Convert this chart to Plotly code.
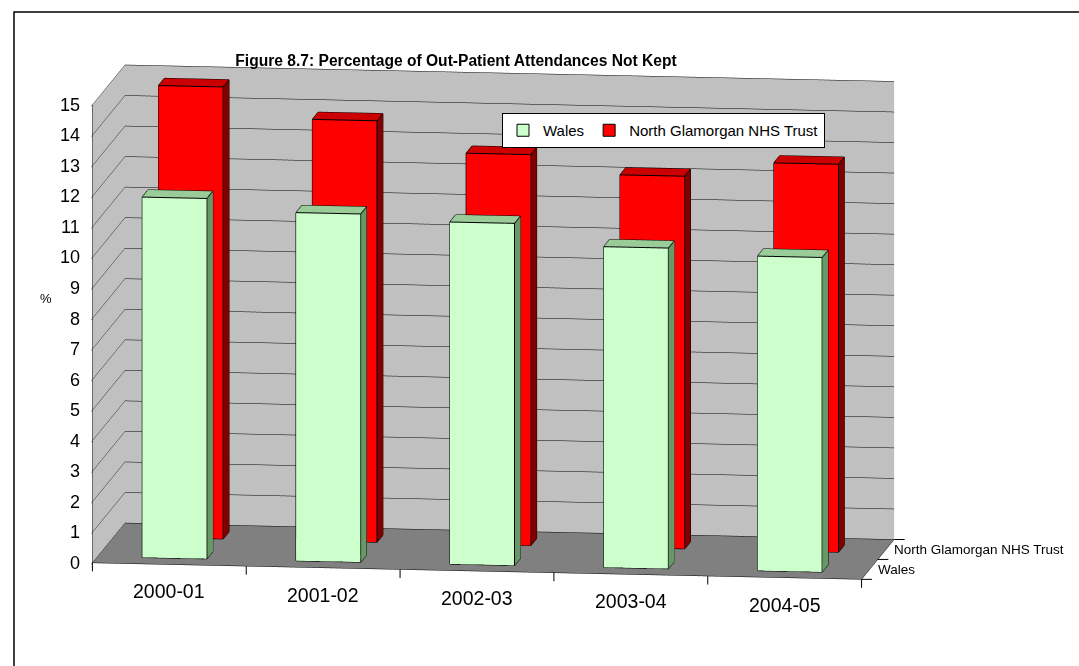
import math
import plotly.graph_objects as go

categories = ["2000-01", "2001-02", "2002-03", "2003-04", "2004-05"]
series_names = ["Wales", "North Glamorgan NHS Trust"]
wales = [11.8, 11.4, 11.2, 10.5, 10.3]
ngnhs = [14.8, 13.8, 12.8, 12.2, 12.7]
z_ticks = list(range(0, 16))

BAR_W = 0.42
BAR_D = 0.36

styles = [
    dict(front="#CCFFCC", side="#669966", top="#99CC99"),
    dict(front="#FF0000", side="#800000", top="#CC0000"),
]

X_RANGE = [-0.5, len(categories) - 0.5]
Y_RANGE = [-0.5, len(series_names) - 0.5]
Z_RANGE = [0, 15]


def box_mesh(values, row, st):
    xs, ys, zs, I, J, K, fc = [], [], [], [], [], [], []
    ex, ey, ez = [], [], []
    for i, v in enumerate(values):
        x0, x1 = i - BAR_W / 2, i + BAR_W / 2
        y0, y1 = row - BAR_D / 2, row + BAR_D / 2
        z0, z1 = 0, v
        b = len(xs)
        verts = [(x0, y0, z0), (x1, y0, z0), (x1, y1, z0), (x0, y1, z0),
                 (x0, y0, z1), (x1, y0, z1), (x1, y1, z1), (x0, y1, z1)]
        for p in verts:
            xs.append(p[0]); ys.append(p[1]); zs.append(p[2])
        faces = [
            ((0, 1, 5), st["front"]), ((0, 5, 4), st["front"]),
            ((1, 2, 6), st["side"]), ((1, 6, 5), st["side"]),
            ((4, 5, 6), st["top"]), ((4, 6, 7), st["top"]),
            ((3, 2, 6), st["front"]), ((3, 6, 7), st["front"]),
            ((0, 3, 7), st["side"]), ((0, 7, 4), st["side"]),
            ((0, 1, 2), st["front"]), ((0, 2, 3), st["front"]),
        ]
        for (a, c, d), col in faces:
            I.append(b + a); J.append(b + c); K.append(b + d); fc.append(col)
        edges = [(0, 1), (1, 5), (5, 4), (4, 0), (1, 2), (2, 6), (6, 5), (6, 7), (7, 4)]
        for a, c in edges:
            pa, pc = verts[a], verts[c]
            ex += [pa[0], pc[0], None]; ey += [pa[1], pc[1], None]; ez += [pa[2], pc[2], None]
    mesh = go.Mesh3d(x=xs, y=ys, z=zs, i=I, j=J, k=K, facecolor=fc, flatshading=True,
                     lighting=dict(ambient=1, diffuse=0, specular=0, roughness=1, fresnel=0),
                     showlegend=False, hoverinfo="skip")
    lines = go.Scatter3d(x=ex, y=ey, z=ez, mode="lines", line=dict(color="black", width=2),
                         showlegend=False, hoverinfo="skip")
    return mesh, lines


fig = go.Figure()
for row, (vals, st) in enumerate([(wales, styles[0]), (ngnhs, styles[1])]):
    m, l = box_mesh(vals, row, st)
    fig.add_trace(m)
    fig.add_trace(l)

# legend entries
for name, st in zip(series_names, styles):
    fig.add_trace(go.Bar(x=[None], y=[None], name=name,
                         marker=dict(color=st["front"], line=dict(color="black", width=1))))

# axis labels and boundary ticks as scene annotations
scene_ann = []
for i, c in enumerate(categories):
    scene_ann.append(dict(x=i, y=Y_RANGE[0], z=0, text=c, showarrow=False,
                          yshift=-27, font=dict(size=19.5)))
for b in range(len(categories) + 1):
    scene_ann.append(dict(x=b - 0.5, y=Y_RANGE[0], z=0, text="", showarrow=True,
                          arrowhead=0, arrowwidth=1, arrowcolor="black", ax=0, ay=10,
                          standoff=0, startstandoff=0))
for r, n in enumerate(series_names):
    scene_ann.append(dict(x=X_RANGE[1], y=r, z=0, text=n, showarrow=False,
                          xanchor="left", xshift=6, font=dict(size=13.5)))
for b in range(len(series_names) + 1):
    scene_ann.append(dict(x=X_RANGE[1], y=b - 0.5, z=0, text="", showarrow=True,
                          arrowhead=0, arrowwidth=1, arrowcolor="black", ax=12, ay=0,
                          standoff=0, startstandoff=0))
for t in z_ticks:
    scene_ann.append(dict(x=X_RANGE[0], y=Y_RANGE[0], z=t, text=str(t), showarrow=False,
                          xanchor="right", xshift=-10, font=dict(size=18)))

az = math.radians(11)
el = math.radians(8.5)
L = 2.33
eye = dict(x=L * math.sin(az) * math.cos(el), y=-L * math.cos(az) * math.cos(el), z=L * math.sin(el))

fig.update_layout(
    width=1079, height=666,
    margin=dict(l=0, r=0, t=0, b=0),
    paper_bgcolor="white", plot_bgcolor="rgba(0,0,0,0)",
    font=dict(family="Arial, Liberation Sans, sans-serif", color="black"),
    xaxis=dict(visible=False), yaxis=dict(visible=False),
    title=dict(text="<b>Figure 8.7: Percentage of Out-Patient Attendances Not Kept</b>",
               x=456 / 1079, xanchor="center", y=1 - 61 / 666, yanchor="middle",
               font=dict(size=15.6, family="Arial, Liberation Sans, sans-serif")),
    legend=dict(orientation="h", x=502 / 1079, y=1 - 113 / 666, xanchor="left", yanchor="top",
                bgcolor="white", bordercolor="black", borderwidth=1,
                font=dict(size=15), itemwidth=30),
    scene=dict(
        domain=dict(x=[0.0, 1.0], y=[0.0, 1.0]),
        aspectmode="manual",
        aspectratio=dict(x=2.33, y=0.745, z=1.394),
        camera=dict(eye=eye, center=dict(x=0.14, y=0, z=-0.03),
                    up=dict(x=0, y=0, z=1), projection=dict(type="orthographic")),
        xaxis=dict(range=X_RANGE, tickvals=list(range(len(categories))),
                   showgrid=False, showbackground=True, backgroundcolor="#C0C0C0",
                   showline=True, linecolor="black", ticks="", showticklabels=False,
                   title=dict(text=""), zeroline=False, showspikes=False),
        yaxis=dict(range=Y_RANGE, tickvals=[0, 1],
                   showgrid=False, showbackground=True, backgroundcolor="#C0C0C0",
                   showline=True, linecolor="black", ticks="", showticklabels=False,
                   title=dict(text=""), zeroline=False, showspikes=False),
        zaxis=dict(range=Z_RANGE, tickvals=z_ticks, showgrid=True, gridcolor="black", gridwidth=1,
                   showbackground=True, backgroundcolor="#808080",
                   showline=True, linecolor="black", ticks="outside", tickcolor="black",
                   ticklen=6, showticklabels=False, title=dict(text=""),
                   zeroline=False, showspikes=False),
        annotations=scene_ann,
    ),
    shapes=[dict(type="rect", xref="paper", yref="paper", x0=14 / 1079, x1=1.01,
                 y0=-0.02, y1=1 - 12 / 666, line=dict(color="black", width=1.5))],
    annotations=[dict(text="%", x=38 / 1079, y=1 - 298 / 666, xref="paper", yref="paper",
                      showarrow=False, font=dict(size=13))],
)

fig.write_html("out.html", config=dict(displayModeBar=False),
               post_script="document.body.style.margin='0';")
